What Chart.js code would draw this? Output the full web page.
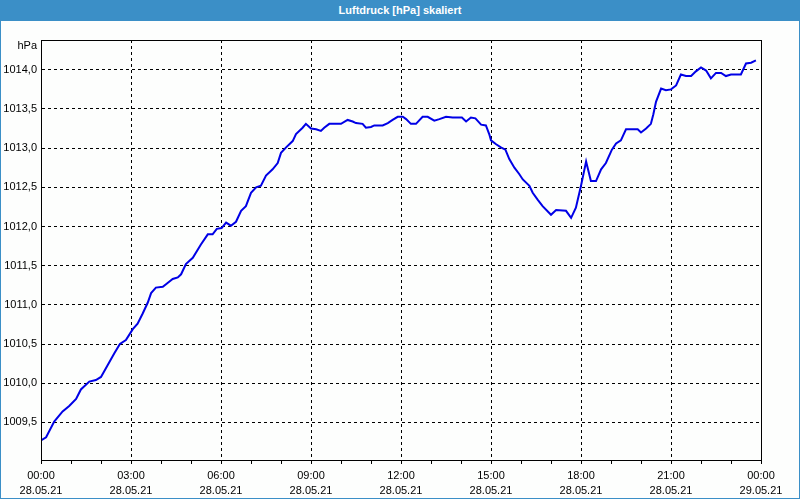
<!DOCTYPE html>
<html>
<head>
<meta charset="utf-8">
<script src="https://cdn.jsdelivr.net/npm/chart.js@4/dist/chart.umd.min.js"></script>
<style>
    html, body { margin: 0; padding: 0; background: #fff; }
    #frame {
        position: relative;
        width: 798px;
        height: 498px;
        border: 1px solid #3b8fc7;
        border-top: none;
        background: #fdfefd;
    }
    #titlebar {
        height: 21px;
        background: #3b8fc7;
        color: #fff;
        font: bold 11px 'Liberation Sans', Arial, sans-serif;
        text-align: center;
        line-height: 21px;
    }
    #plot { position: absolute; left: 0; top: 21px; width: 798px; height: 477px; }
</style>
</head>
<body>
<div id="frame">
    <div id="titlebar">Luftdruck [hPa] skaliert</div>
    <div id="plot"><canvas id="chart"></canvas></div>
</div>
<script>
const chartTitle = 'Luftdruck [hPa] skaliert';
const unitLabel = 'hPa';

// time of day in hours (28.05.21 00:00 = 0)
const hours = [
    0.00, 0.17, 0.44, 0.72, 0.94, 1.17, 1.33, 1.61, 1.83, 2.00,
    2.22, 2.44, 2.63, 2.83, 3.06, 3.22, 3.39, 3.56, 3.67, 3.83,
    4.06, 4.22, 4.39, 4.56, 4.67, 4.83, 5.06, 5.33, 5.56, 5.72,
    5.86, 6.02, 6.17, 6.33, 6.50, 6.67, 6.83, 7.00, 7.17, 7.33,
    7.50, 7.72, 7.89, 8.00, 8.17, 8.39, 8.50, 8.72, 8.83, 9.00,
    9.17, 9.33, 9.44, 9.61, 10.00, 10.22, 10.39, 10.50, 10.72, 10.83,
    11.00, 11.11, 11.39, 11.56, 11.72, 11.89, 12.06, 12.17, 12.33, 12.50,
    12.72, 12.89, 13.11, 13.28, 13.50, 13.72, 14.03, 14.17, 14.33, 14.48,
    14.67, 14.83, 14.94, 15.00, 15.17, 15.33, 15.48, 15.61, 15.78, 15.94,
    16.06, 16.28, 16.39, 16.56, 16.72, 17.00, 17.17, 17.50, 17.67, 17.83,
    18.00, 18.17, 18.33, 18.50, 18.67, 18.83, 19.03, 19.17, 19.33, 19.50,
    19.89, 20.00, 20.17, 20.33, 20.41, 20.50, 20.67, 20.83, 21.00, 21.17,
    21.33, 21.50, 21.67, 21.83, 22.00, 22.17, 22.33, 22.50, 22.67, 22.83,
    23.00, 23.33, 23.50, 23.67, 23.83
];
const pressure = [
    1009.27, 1009.31, 1009.51, 1009.64, 1009.71, 1009.80, 1009.92, 1010.02, 1010.04, 1010.08,
    1010.23, 1010.38, 1010.50, 1010.55, 1010.69, 1010.76, 1010.89, 1011.03, 1011.15, 1011.22,
    1011.23, 1011.28, 1011.33, 1011.35, 1011.39, 1011.52, 1011.60, 1011.77, 1011.90, 1011.90,
    1011.97, 1011.98, 1012.05, 1012.01, 1012.06, 1012.20, 1012.26, 1012.43, 1012.50, 1012.52,
    1012.65, 1012.73, 1012.81, 1012.94, 1013.01, 1013.09, 1013.18, 1013.26, 1013.31, 1013.25,
    1013.24, 1013.22, 1013.26, 1013.31, 1013.31, 1013.36, 1013.34, 1013.32, 1013.31, 1013.26,
    1013.27, 1013.29, 1013.29, 1013.32, 1013.36, 1013.40, 1013.40, 1013.37, 1013.31, 1013.31,
    1013.40, 1013.40, 1013.35, 1013.37, 1013.40, 1013.39, 1013.39, 1013.34, 1013.39, 1013.38,
    1013.30, 1013.29, 1013.18, 1013.10, 1013.05, 1013.01, 1012.98, 1012.86, 1012.75, 1012.67,
    1012.60, 1012.52, 1012.43, 1012.34, 1012.26, 1012.15, 1012.21, 1012.20, 1012.11, 1012.24,
    1012.52, 1012.83, 1012.58, 1012.58, 1012.73, 1012.81, 1012.98, 1013.06, 1013.10, 1013.24,
    1013.24, 1013.20, 1013.25, 1013.31, 1013.43, 1013.59, 1013.76, 1013.74, 1013.75, 1013.80,
    1013.94, 1013.92, 1013.92, 1013.98, 1014.03, 1013.99, 1013.89, 1013.96, 1013.96, 1013.92,
    1013.94, 1013.94, 1014.08, 1014.09, 1014.12
];

const tickHours = [0, 3, 6, 9, 12, 15, 18, 21, 24];
const tickTimes = ['00:00', '03:00', '06:00', '09:00', '12:00', '15:00', '18:00', '21:00', '00:00'];
const tickDates = ['28.05.21', '28.05.21', '28.05.21', '28.05.21', '28.05.21', '28.05.21', '28.05.21', '28.05.21', '29.05.21'];
const yTicks = [1009.5, 1010.0, 1010.5, 1011.0, 1011.5, 1012.0, 1012.5, 1013.0, 1013.5, 1014.0];

const FONT = "'Liberation Sans', Arial, sans-serif";

// black frame round the plot area plus the unit label above the y labels
const framePlugin = {
    id: 'frame',
    afterDraw(chart) {
        const { ctx, chartArea: a } = chart;
        ctx.save();
        ctx.strokeStyle = '#000';
        ctx.lineWidth = 1;
        ctx.strokeRect(Math.round(a.left) + 0.5, Math.round(a.top) + 0.5,
            Math.round(a.right - a.left), Math.round(a.bottom - a.top));
        ctx.fillStyle = '#000';
        ctx.font = '11px ' + FONT;
        ctx.textAlign = 'right';
        ctx.textBaseline = 'middle';
        ctx.fillText(unitLabel, a.left - 4, a.top + 6);
        ctx.restore();
    }
};

const isMajor = v => tickHours.includes(v);

new Chart(document.getElementById('chart'), {
    type: 'line',
    data: {
        datasets: [{
            label: chartTitle,
            data: hours.map((h, i) => ({ x: h, y: pressure[i] })),
            borderColor: '#0000e6',
            borderWidth: 2,
            pointRadius: 0,
            tension: 0,
            fill: false
        }]
    },
    options: {
        responsive: true,
        maintainAspectRatio: false,
        animation: false,
        layout: { padding: { left: 0, top: 19, right: 38, bottom: 0 } },
        plugins: {
            legend: { display: false },
            tooltip: { enabled: false }
        },
        scales: {
            x: {
                type: 'linear',
                min: 0,
                max: 24,
                afterFit: s => { s.height = 38; },
                afterBuildTicks: s => {
                    s.ticks = [];
                    for (let h = 0; h <= 24; h++) s.ticks.push({ value: h });
                },
                ticks: {
                    autoSkip: false,
                    maxRotation: 0,
                    padding: 5,
                    color: '#000',
                    font: { family: FONT, size: 11, lineHeight: 1.35 },
                    callback: v => {
                        const i = tickHours.indexOf(v);
                        return i < 0 ? '' : [tickTimes[i], tickDates[i]];
                    }
                },
                grid: {
                    color: c => isMajor(c.tick.value) ? '#000' : 'rgba(0,0,0,0)',
                    tickColor: '#000',
                    tickLength: 4,
                    lineWidth: 1
                },
                border: { color: '#000', dash: [3, 3] }
            },
            y: {
                min: 1009.02,
                max: 1014.38,
                afterFit: s => { s.width = 40; },
                afterBuildTicks: s => { s.ticks = yTicks.map(v => ({ value: v })); },
                ticks: {
                    padding: 4,
                    color: '#000',
                    font: { family: FONT, size: 11 },
                    callback: v => v.toFixed(1).replace('.', ',')
                },
                grid: {
                    color: '#000',
                    drawTicks: false,
                    lineWidth: 1
                },
                border: { color: '#000', dash: [3, 3] }
            }
        }
    },
    plugins: [framePlugin]
});
</script>
</body>
</html>
